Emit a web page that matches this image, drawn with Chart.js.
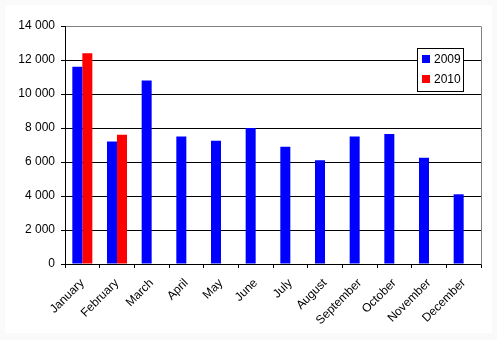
<!DOCTYPE html>
<html>
<head>
<meta charset="utf-8">
<script src="https://cdn.jsdelivr.net/npm/chart.js@4"></script>
<style>
    html, body { margin: 0; padding: 0; background: #fafafa; }
    #wrap { position: absolute; left: 0; top: 0; width: 497px; height: 340px; }
    #frame { position: absolute; left: 5px; top: 5px; width: 487px; height: 328px; background: #fff; }
    canvas { position: absolute; left: 0; top: 0; }
</style>
</head>
<body>
<div id="wrap">
    <div id="frame"></div>
    <canvas id="monthChart" width="497" height="340"></canvas>
</div>
<script>
const months = ["January", "February", "March", "April", "May", "June",
    "July", "August", "September", "October", "November", "December"];
const values2009 = [11600, 7200, 10800, 7500, 7250, 8000, 6900, 6100, 7500, 7650, 6250, 4100];
const values2010 = [12400, 7600, null, null, null, null, null, null, null, null, null, null];
const yTicks = [0, 2000, 4000, 6000, 8000, 10000, 12000, 14000];

const FONT = "'Liberation Sans', Arial, sans-serif";

// plot frame: gray right edge, like the original
const framePlugin = {
    id: "frame",
    afterDraw(chart) {
        const ctx = chart.ctx;
        const a = chart.chartArea;
        ctx.save();
        ctx.strokeStyle = "#808080";
        ctx.lineWidth = 1;
        ctx.beginPath();
        ctx.moveTo(Math.round(a.right) + 0.5, Math.round(a.top) + 0.5);
        ctx.lineTo(Math.round(a.right) + 0.5, Math.round(a.bottom) + 0.5);
        ctx.stroke();
        ctx.restore();
    }
};

// boxed legend sitting over the plot area
const boxLegend = {
    id: "boxLegend",
    afterDraw(chart) {
        const ctx = chart.ctx;
        const x = 417, y = 48, w = 46, h = 43;
        ctx.save();
        ctx.fillStyle = "#fff";
        ctx.fillRect(x, y, w, h);
        ctx.strokeStyle = "#000";
        ctx.lineWidth = 1;
        ctx.strokeRect(x + 0.5, y + 0.5, w, h);
        ctx.font = "12px " + FONT;
        ctx.textBaseline = "middle";
        chart.data.datasets.forEach((ds, i) => {
            const cy = y + 11 + i * 20;
            ctx.fillStyle = ds.backgroundColor;
            ctx.fillRect(x + 5, cy - 4, 8, 8);
            ctx.fillStyle = "#000";
            ctx.fillText(ds.label, x + 17, cy + 1);
        });
        ctx.restore();
    }
};

new Chart(document.getElementById("monthChart"), {
    type: "bar",
    data: {
        labels: months,
        datasets: [
            { label: "2009", data: values2009, backgroundColor: "#0000ff" },
            { label: "2010", data: values2010, backgroundColor: "#ff0000" }
        ]
    },
    options: {
        responsive: false,
        animation: false,
        layout: { padding: { top: 26, right: 16, left: 0, bottom: 0 } },
        datasets: { bar: { barPercentage: 1, categoryPercentage: 0.577 } },
        plugins: { legend: { display: false }, tooltip: { enabled: false } },
        scales: {
            x: {
                offset: true,
                border: { color: "#000", width: 1 },
                grid: { display: true, drawOnChartArea: false, offset: true, color: "#000", tickLength: 4 },
                ticks: {
                    color: "#000",
                    font: { family: FONT, size: 12 },
                    maxRotation: 45,
                    minRotation: 45,
                    autoSkip: false,
                    padding: 8
                },
                afterFit(scale) { scale.height = 76; }
            },
            y: {
                min: 0,
                max: 14000,
                afterBuildTicks(scale) { scale.ticks = yTicks.map(v => ({ value: v })); },
                border: { color: "#000", width: 1 },
                grid: {
                    color: c => (c.tick && c.tick.value === 14000 ? "#808080" : "#000"),
                    tickColor: "#000",
                    tickLength: 4
                },
                ticks: {
                    color: "#000",
                    font: { family: FONT, size: 12 },
                    padding: 6,
                    callback: v => String(v).replace(/\B(?=(\d{3})+(?!\d))/g, " ")
                },
                afterFit(scale) { scale.width = 65; }
            }
        }
    },
    plugins: [framePlugin, boxLegend]
});
</script>
</body>
</html>
